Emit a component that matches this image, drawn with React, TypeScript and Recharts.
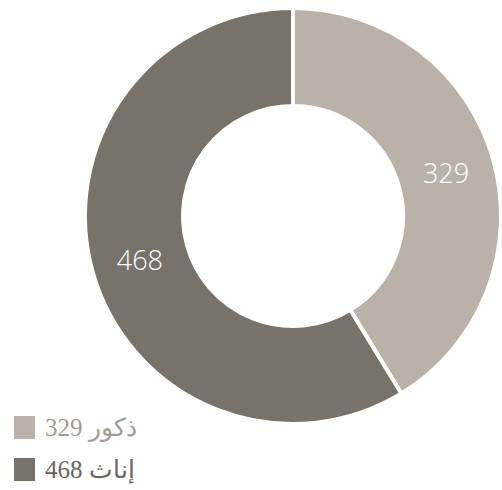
import React from 'react';
import { PieChart, Pie, Cell, Legend } from 'recharts';

const names = ['ذكور', 'إناث'];
const values = [329, 468];
const colors = ['#bab2a9', '#77726a'];
const textColors = ['#a39c94', '#6b665f'];

const data = names.map((name, i) => ({ name, value: values[i] }));

const RADIAN = Math.PI / 180;

const renderLabel = (props: any) => {
  const { cx, cy, midAngle, innerRadius, outerRadius, value } = props;
  const r = (innerRadius + outerRadius) / 2;
  const x = cx + r * Math.cos(-midAngle * RADIAN);
  const y = cy + r * Math.sin(-midAngle * RADIAN);
  return (
    <text
      x={x}
      y={y}
      fill="#ffffff"
      textAnchor="middle"
      dominantBaseline="central"
      fontFamily="'Open Sans', 'Noto Sans', sans-serif"
      fontWeight={300}
      fontSize={27}
    >
      {value}
    </text>
  );
};

const renderLegend = () => (
  <div style={{ fontFamily: "'Liberation Serif', 'DejaVu Serif', serif" }}>
    {data.map((d, i) => (
      <div
        key={d.name}
        style={{ display: 'flex', alignItems: 'center', height: 42 }}
      >
        <span
          style={{
            display: 'inline-block',
            width: 21,
            height: 23,
            background: colors[i],
            marginRight: 10,
          }}
        />
        <span style={{ fontSize: 25, color: textColors[i], direction: 'ltr' }}>
          {d.value} {d.name}
        </span>
      </div>
    ))}
  </div>
);

export default function App() {
  return (
    <div style={{ position: 'absolute', left: 0, top: 0, width: 502, height: 490, background: '#fff' }}>
      <PieChart width={502} height={490} margin={{ top: 0, right: 0, bottom: 0, left: 0 }}>
        <Pie
          data={data}
          dataKey="value"
          nameKey="name"
          cx={293}
          cy={216}
          innerRadius={110}
          outerRadius={208}
          startAngle={90}
          endAngle={-270}
          stroke="#ffffff"
          strokeWidth={4}
          label={renderLabel}
          labelLine={false}
          isAnimationActive={false}
        >
          {data.map((d, i) => (
            <Cell key={d.name} fill={colors[i]} />
          ))}
        </Pie>
        <Legend
          content={renderLegend}
          wrapperStyle={{ position: 'absolute', left: 14, top: 406, width: 250 }}
        />
      </PieChart>
    </div>
  );
}
